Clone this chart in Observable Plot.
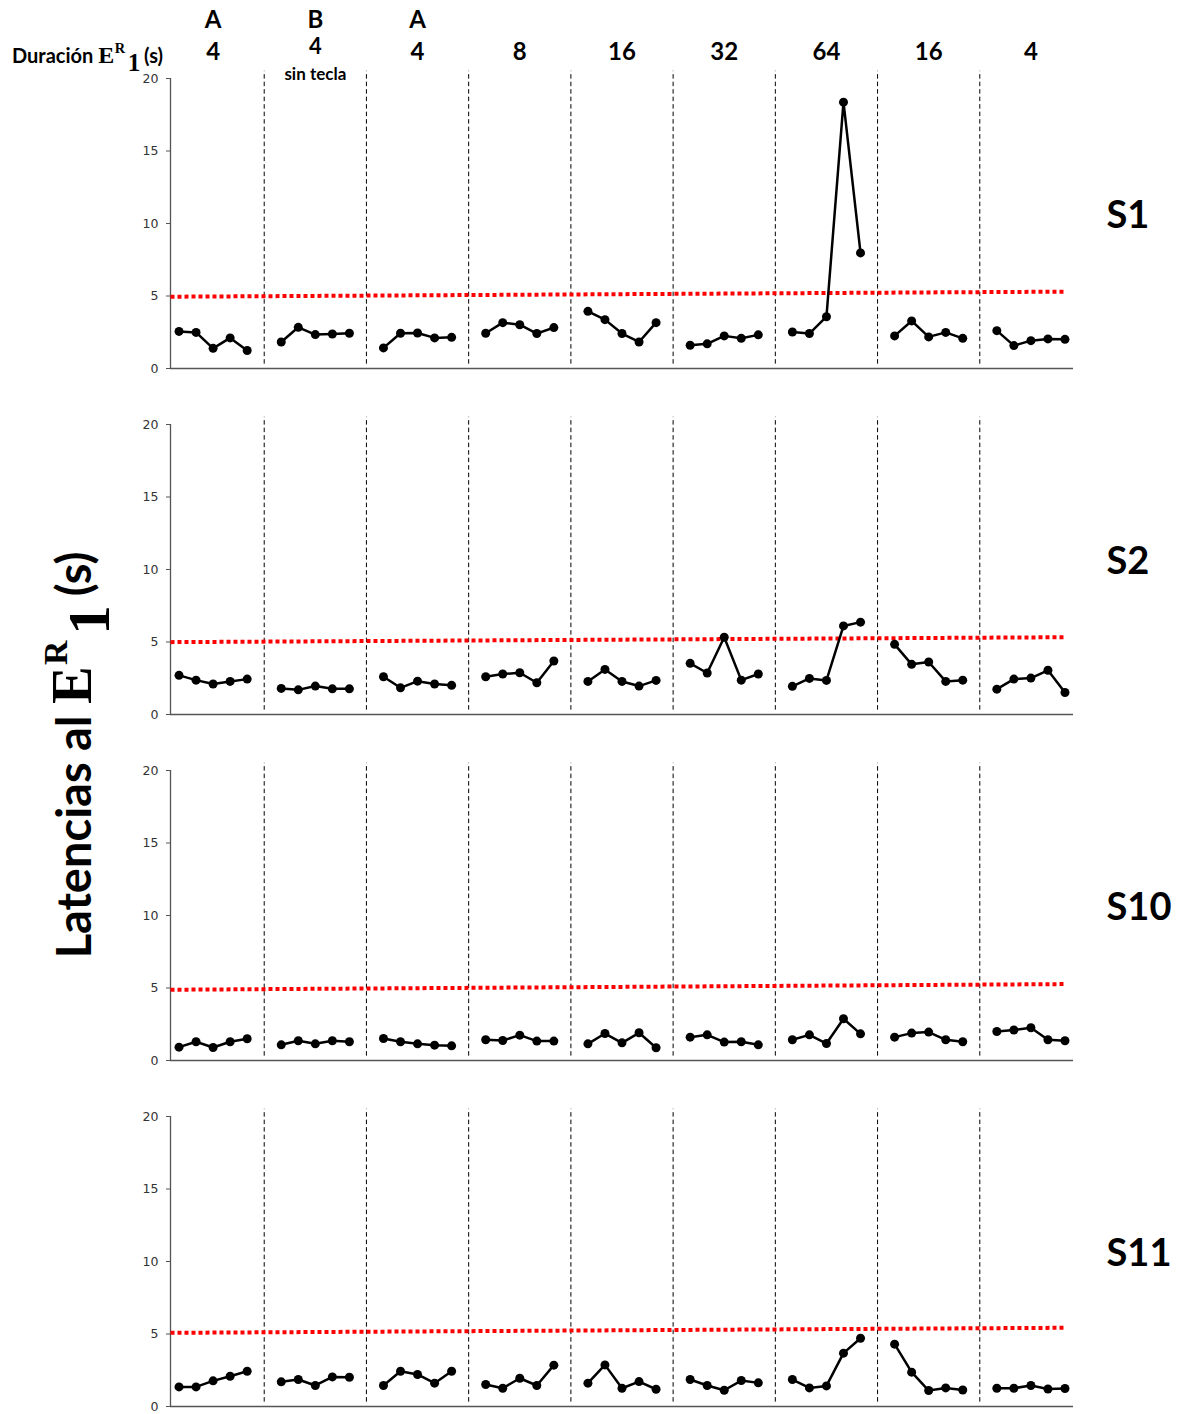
<!DOCTYPE html>
<html>
<head>
<meta charset="utf-8">
<script src="https://cdn.jsdelivr.net/npm/d3@7"></script>
<script src="https://cdn.jsdelivr.net/npm/@observablehq/plot@0.6"></script>
<style>
  body { margin: 0; background: #fff; }
  #wrap { position: relative; width: 1185px; height: 1414px; overflow: hidden;
          font-family: Lato, "Open Sans", sans-serif; color: #000; }
  #chart { position: absolute; left: 0; top: 0; }
  .serif { font-family: "Liberation Serif", "DejaVu Serif", serif; font-weight: 700; font-size: 1.2em; }
  .up { position: relative; top: -0.7em; font-size: 0.6em; margin-left: 0.04em; }
  .dn { position: relative; top: 0.3em; font-size: 1.05em; margin-left: 0.1em; margin-right: 0.15em; }
  .dur { position: absolute; left: 12px; top: 42px; font-weight: 700; font-size: 20px;
         white-space: nowrap; line-height: 1; }
  .ylab { position: absolute; left: 72px; top: 755px; transform: translate(-50%, -50%) rotate(-90deg);
          white-space: nowrap; font-weight: 700; font-size: 47px; line-height: 1; }
</style>
</head>
<body>
<div id="wrap">
  <div id="chart"></div>
  <div class="dur">Duración <span class="serif">E<span class="up">R</span><span class="dn">1</span></span>(s)</div>
  <div class="ylab">Latencias al <span class="serif">E<span class="up">R</span><span class="dn">1</span></span>(s)</div>
</div>
<script>
// Phases of the procedure (header rows)
const conditions = ["A", "B", "A", "", "", "", "", "", ""];
const durations  = ["4", "4", "4", "8", "16", "32", "64", "16", "4"];
const notes      = ["", "sin tecla", "", "", "", "", "", "", ""];

// Subjects, one panel each
const subjects = ["S1", "S2", "S10", "S11"];

// Latencies (s): one row of five sessions per phase
const latS1 = [
  [2.56, 2.49, 1.39, 2.11, 1.24],
  [1.83, 2.84, 2.34, 2.38, 2.43],
  [1.42, 2.43, 2.45, 2.11, 2.15],
  [2.43, 3.16, 3.02, 2.41, 2.82],
  [3.94, 3.37, 2.41, 1.83, 3.16],
  [1.60, 1.70, 2.25, 2.08, 2.32],
  [2.52, 2.41, 3.57, 18.37, 7.97],
  [2.25, 3.28, 2.18, 2.49, 2.08],
  [2.61, 1.58, 1.92, 2.04, 2.01]
];
const latS2 = [
  [2.70, 2.37, 2.10, 2.28, 2.44],
  [1.80, 1.70, 1.96, 1.77, 1.77],
  [2.60, 1.84, 2.30, 2.10, 2.01],
  [2.60, 2.79, 2.88, 2.19, 3.69],
  [2.28, 3.11, 2.28, 1.96, 2.35],
  [3.53, 2.86, 5.33, 2.37, 2.79],
  [1.94, 2.49, 2.35, 6.11, 6.37],
  [4.84, 3.46, 3.62, 2.28, 2.37],
  [1.75, 2.44, 2.51, 3.05, 1.52]
];
const latS10 = [
  [0.92, 1.29, 0.90, 1.29, 1.50],
  [1.08, 1.36, 1.15, 1.36, 1.29],
  [1.52, 1.29, 1.15, 1.06, 1.01],
  [1.43, 1.38, 1.75, 1.34, 1.34],
  [1.15, 1.86, 1.22, 1.91, 0.88],
  [1.61, 1.77, 1.27, 1.29, 1.08],
  [1.43, 1.77, 1.17, 2.88, 1.84],
  [1.61, 1.89, 1.96, 1.43, 1.29],
  [2.00, 2.10, 2.26, 1.43, 1.36]
];
const latS11 = [
  [1.35, 1.35, 1.77, 2.09, 2.43],
  [1.70, 1.86, 1.45, 2.04, 2.02],
  [1.45, 2.43, 2.21, 1.61, 2.43],
  [1.52, 1.26, 1.95, 1.45, 2.85],
  [1.61, 2.87, 1.26, 1.72, 1.19],
  [1.86, 1.45, 1.12, 1.79, 1.63],
  [1.86, 1.28, 1.42, 3.68, 4.71],
  [4.30, 2.37, 1.10, 1.28, 1.14],
  [1.26, 1.26, 1.45, 1.21, 1.24]
];

// Reference criterion line per subject (value at first and last session)
const criterionStart = [4.95, 4.99, 4.88, 5.08];
const criterionEnd   = [5.30, 5.33, 5.27, 5.43];

const yTicks = [0, 5, 10, 15, 20];

// ---- tables for the marks ----
const latencies = {S1: latS1, S2: latS2, S10: latS10, S11: latS11};
const perPhase = 5;
const slot = perPhase + 1;              // one empty slot separates phases
const nPhases = durations.length;
const lastSession = (nPhases - 1) * slot + perPhase - 1;

const points = subjects.flatMap(subject =>
  latencies[subject].flatMap((vals, p) =>
    vals.map((v, s) => ({subject, phase: p, session: p * slot + s, latency: v}))));

const boundaries = subjects.flatMap(subject =>
  d3.range(1, nPhases).map(p => ({subject, session: p * slot - 1})));

const criterion = subjects.map((subject, i) => ({
  subject, x1: -0.5, x2: lastSession, y1: criterionStart[i], y2: criterionEnd[i]
}));

const header = durations.map((d, p) => ({
  subject: subjects[0], center: p * slot + (perPhase - 1) / 2,
  condition: conditions[p], duration: d, note: notes[p]
}));

const headerText = {x: "center", fy: "subject", frameAnchor: "top", lineAnchor: "middle",
                    fontWeight: 700, fill: "#000"};

const chart = Plot.plot({
  width: 1185,
  height: 1414,
  marginTop: 78,
  marginBottom: 7,
  marginLeft: 170,
  marginRight: 112,
  x: {domain: [-0.5, lastSession + 0.5], axis: null},
  y: {domain: [0, 20], axis: null},
  fy: {domain: subjects, axis: null, paddingInner: 0.161, paddingOuter: 0},
  style: {fontFamily: "Lato, sans-serif", background: "#fff"},
  marks: [
    Plot.ruleY([0], {stroke: "#555", strokeWidth: 1.3}),
    Plot.ruleX([-0.5], {stroke: "#555", strokeWidth: 1.3}),
    Plot.axisY({ticks: yTicks, tickSize: 4, tickPadding: 8, fontSize: 12.5,
                fontFamily: "DejaVu Sans", stroke: "#555", fill: "#333"}),
    Plot.ruleX(boundaries, {x: "session", fy: "subject", y1: 0.3, y2: 20.5,
                            stroke: "#000", strokeWidth: 1, strokeDasharray: "4.5,3"}),
    Plot.link(criterion, {x1: "x1", x2: "x2", y1: "y1", y2: "y2", fy: "subject",
                          stroke: "#ff0000", strokeWidth: 4, strokeDasharray: "4,3",
                          strokeLinecap: "butt"}),
    Plot.line(points, {x: "session", y: "latency", z: "phase", fy: "subject",
                       stroke: "#000", strokeWidth: 2.5}),
    Plot.dot(points, {x: "session", y: "latency", fy: "subject", r: 4.5, fill: "#000"}),
    Plot.text(header, {...headerText, text: "condition", dy: -58, fontSize: 24}),
    // durations; the one with a note underneath sits a little higher
    Plot.text(header, {...headerText, text: "duration", dy: -26, fontSize: 24,
                       filter: d => d.note === ""}),
    Plot.text(header, {...headerText, text: "duration", dy: -32, fontSize: 22,
                       filter: d => d.note !== ""}),
    Plot.text(header, {...headerText, text: "note", dy: -4, fontSize: 17}),
    Plot.text(subjects, {fy: d => d, text: d => d, y: () => 10.5, frameAnchor: "right",
                         dx: 33, textAnchor: "start", fontSize: 38, fontWeight: 700, fill: "#000"})
  ]
});

document.getElementById("chart").appendChild(chart);
</script>
</body>
</html>
